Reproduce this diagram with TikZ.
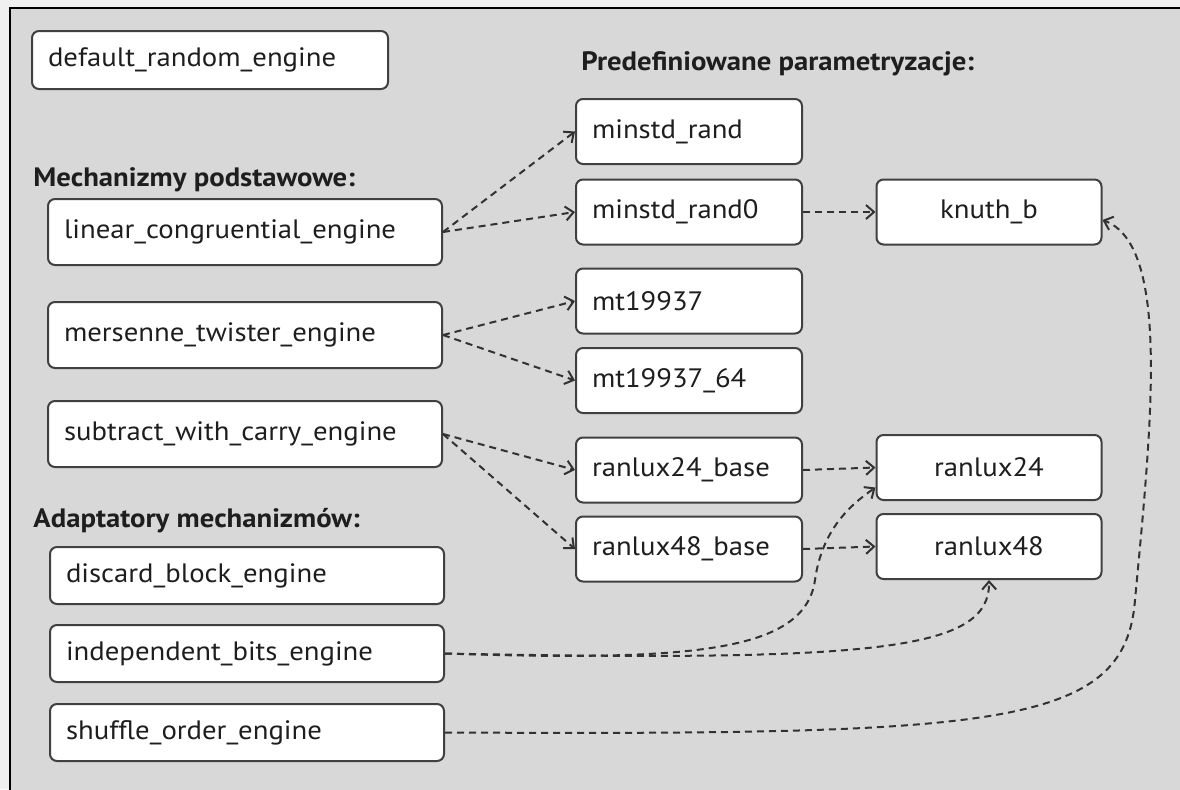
\documentclass[tikz,border=0pt]{standalone}
\usepackage{fontspec}
\setmainfont{PT Sans}[FakeStretch=1.08]
\usepackage{tikz}
\usetikzlibrary{arrows.meta}
\usetikzlibrary{calc}

\definecolor{bggray}{RGB}{216,216,216}
\definecolor{outergray}{RGB}{240,240,240}
\definecolor{boxline}{RGB}{64,64,64}
\definecolor{dashline}{RGB}{50,50,50}
\definecolor{txt}{RGB}{30,30,30}

\tikzset{
 engine/.style={draw=boxline, line width=1pt, fill=white, rounded corners=3.5pt, inner xsep=8pt, inner ysep=0pt,
   text=txt, font=\fontsize{13.3}{16}\selectfont, align=left},
 defbox/.style={engine, text width=162pt, minimum height=29pt},
 basebox/.style={engine, text width=181pt, minimum height=33pt},
 adaptbox/.style={engine, text width=181pt, minimum height=28.5pt},
 parambox/.style={engine, text width=97pt, minimum height=32.5pt},
 finalbox/.style={engine, text width=96.5pt, minimum height=32.5pt, align=center},
 heading/.style={anchor=base west, inner sep=0pt, text=txt, font=\fontsize{13.3}{16}\selectfont\bfseries},
 link/.style={draw=dashline, line width=1pt, dash pattern=on 3.5pt off 2.5pt, -{Straight Barb[length=4pt,width=7pt]}}
}

\begin{document}
\begin{tikzpicture}[x=0.5pt, y=-0.5pt]
 \useasboundingbox (0,0) rectangle (1180,789);
 \fill[outergray] (0,0) rectangle (1180,789);
 \draw[fill=bggray, line width=1pt] (10,8) rectangle (1190,800);

 %lewa kolumna
 \node[defbox] (dre) at (210,60) {default\_random\_engine};

 \node[heading] (hbase) at (33,186) {Mechanizmy podstawowe:};
 \foreach \name/\y/\txt in {lce/232/linear\_congruential\_engine, mte/335/mersenne\_twister\_engine, swc/434/subtract\_with\_carry\_engine} {
   \node[basebox] (\name) at (245,\y) {\txt};
 }

 \node[heading] (hadapt) at (33,527) {Adaptatory mechanizmów:};
 \foreach \name/\y/\txt in {dbe/575.5/discard\_block\_engine, ibe/653.5/independent\_bits\_engine, soe/732.5/shuffle\_order\_engine} {
   \node[adaptbox] (\name) at (247,\y) {\txt};
 }

 %parametryzacje
 \node[heading] (hparam) at (581,70) {Predefiniowane parametryzacje:};
 \foreach \name/\y/\txt in {mr/131.5/minstd\_rand, mrz/212/minstd\_rand0, mt/301/mt19937, mtl/380.5/mt19937\_64, lxa/470/ranlux24\_base, lxb/549/ranlux48\_base} {
   \node[parambox] (\name) at (689,\y) {\txt};
 }

 \node[finalbox] (knuth) at (989,212) {knuth\_b};
 \node[finalbox] (lux24) at (989,467.5) {ranlux24};
 \node[finalbox] (lux48) at (989,546.5) {ranlux48};

 %strzalki
 \draw[link] (lce.east) -- (mr.west);
 \draw[link] (lce.east) -- (mrz.west);
 \draw[link] (mte.east) -- (mt.west);
 \draw[link] (mte.east) -- (mtl.west);
 \draw[link] (swc.east) -- (lxa.west);
 \draw[link] (swc.east) -- (lxb.west);
 \draw[link] (mrz.east) -- (knuth.west);
 \draw[link] (lxa.east) -- (lux24.west);
 \draw[link] (lxb.east) -- (lux48.west);

 \draw[link] (ibe.east) .. controls (700,662) and (805,650) .. (815,580)
   .. controls (822,530) and (850,505) .. (lux24.-170);
 \draw[link] (ibe.east) .. controls (880,662) and (990,650) .. (lux48.south);
 \draw[link] (soe.east) .. controls (1000,735) and (1125,728) .. (1135,600)
   .. controls (1152,420) and (1170,245) .. ([yshift=-4pt]knuth.east);

\end{tikzpicture}
\end{document}
